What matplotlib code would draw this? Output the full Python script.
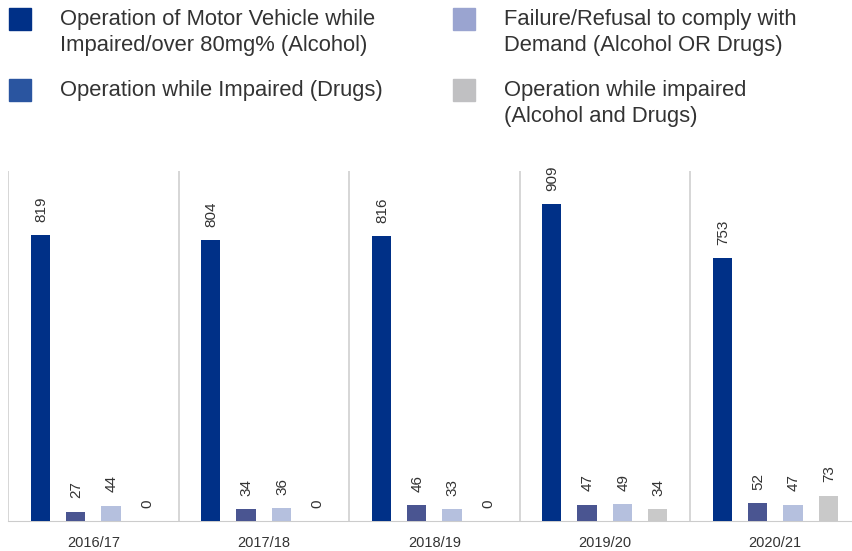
import matplotlib.pyplot as plt
import matplotlib.patches as mpatches
import numpy as np

plt.rcParams['font.family'] = ['Liberation Sans', 'DejaVu Sans']

# Dane
years = ["2016/17", "2017/18", "2018/19", "2019/20", "2020/21"]
alcohol = [819, 804, 816, 909, 753]
drugs = [27, 34, 46, 47, 52]
refusal = [44, 36, 33, 49, 47]
both = [0, 0, 0, 34, 73]

series = [alcohol, drugs, refusal, both]
bar_colors = ["#003087", "#4a5591", "#b5c0de", "#c9c9c9"]
legend_colors = ["#003087", "#2a55a0", "#9aa4d0", "#c0c0c2"]
legend_labels = [
    "Operation of Motor Vehicle while\nImpaired/over 80mg% (Alcohol)",
    "Operation while Impaired (Drugs)",
    "Failure/Refusal to comply with\nDemand (Alcohol OR Drugs)",
    "Operation while impaired\n(Alcohol and Drugs)",
]

W, H = 853, 551
fig = plt.figure(figsize=(W / 100, H / 100), dpi=100)
ax = fig.add_axes([8 / W, 30 / H, (W - 8) / W, (521 - 171) / H])

x = np.arange(len(years))
step = 0.208
width = 0.112
for i, vals in enumerate(series):
    pos = x + (i - 1.5) * step
    ax.bar(pos, vals, width=width, color=bar_colors[i], zorder=3)
    for p, v in zip(pos, vals):
        ax.text(p + 0.005, v + 38, str(v), rotation=90, ha="center", va="bottom",
                fontsize=11, color="#333333")

ax.set_xlim(-0.5, 4.456)
ax.set_ylim(0, 1003)
ax.set_yticks([])
ax.set_xticks(x)
ax.set_xticklabels(years, fontsize=10.5, color="#333333")
ax.tick_params(axis="x", length=0, pad=11)
for s in ["top", "right", "left"]:
    ax.spines[s].set_visible(False)
ax.spines["bottom"].set_color("#cccccc")
for b in np.arange(-0.5, 5, 1.0):
    ax.axvline(b, color="#d0d0d0", lw=1.2, zorder=1)

# Legenda
pos_leg = [(9, 8), (9, 79), (453, 8), (453, 79)]
for (px, py), c, lab in zip(pos_leg, legend_colors, legend_labels):
    fig.patches.append(mpatches.Rectangle((px / W, 1 - (py + 22) / H), 22 / W, 22 / H,
                                          transform=fig.transFigure, color=c))
    fig.text((px + 51) / W, 1 - (py + 1) / H, lab, ha="left", va="top",
             fontsize=15.8, color="#333333", linespacing=1.34)

fig.savefig("out.png", dpi=100)
